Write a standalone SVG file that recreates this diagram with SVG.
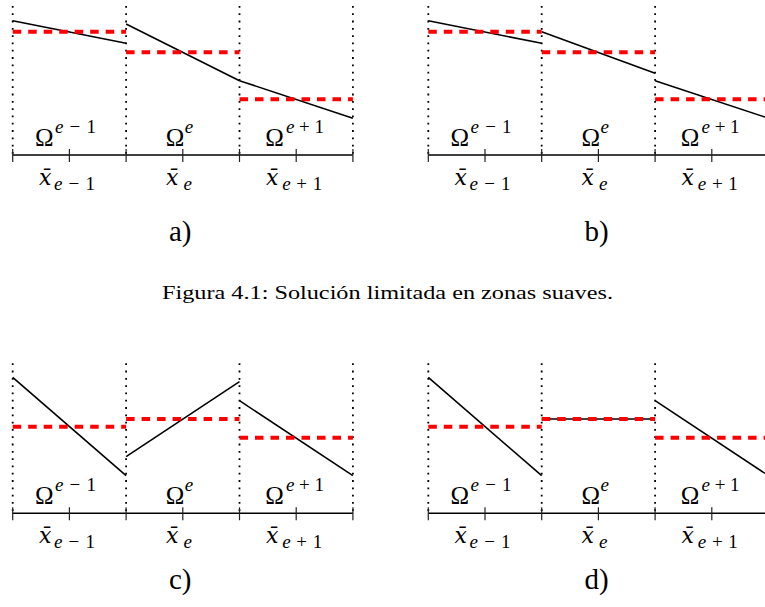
<svg xmlns="http://www.w3.org/2000/svg" width="765" height="607" viewBox="0 0 765 607" font-family="'Liberation Serif', serif">
<style>
.bg{fill:#fff}
.dot{stroke:#000;stroke-width:1.8;stroke-dasharray:1.8 5.5;fill:none}
.axis{stroke:#000;stroke-width:1.5;fill:none}
.tick{stroke:#222;stroke-width:1.2;fill:none}
.sol{stroke:#000;stroke-width:1.6;fill:none;stroke-linecap:butt}
.avg{stroke:#f00;stroke-width:4;stroke-dasharray:8.5 7;fill:none}
.t{font-family:'Liberation Serif',serif;fill:#000}
.om{font-size:25px}
.xb{font-family:'DejaVu Serif',serif;font-size:22px;font-style:italic}
.sc{font-size:19px}
.it{font-style:italic}
.lab{font-size:29px}
.cap{font-size:19px}
</style>
<rect class="bg" x="0" y="0" width="765" height="607"/>

<g id="panel-a">
  <g id="a-grid">
    <line class="dot" x1="12.7" y1="6" x2="12.7" y2="155"/>
    <line class="dot" x1="126.1" y1="6" x2="126.1" y2="155"/>
    <line class="dot" x1="239.5" y1="6" x2="239.5" y2="155"/>
    <line class="dot" x1="352.9" y1="6" x2="352.9" y2="155"/>
    <line class="axis" x1="12.7" y1="155" x2="352.9" y2="155"/>
    <path class="tick" d="M12.7 149V162M126.1 149V162M239.5 149V162M352.9 149V162M69.4 149V162M182.8 149V162M296.2 149V162"/>
  </g>
  <g id="a-sol">
    <line class="sol" x1="12.7" y1="20.7" x2="126.1" y2="43.3"/>
    <line class="sol" x1="126.1" y1="24" x2="239.5" y2="80.7"/>
    <line class="sol" x1="239.5" y1="80.7" x2="352.9" y2="118.3"/>
    <line class="avg" x1="12.7" y1="31.7" x2="126.1" y2="31.7"/>
    <line class="avg" x1="126.1" y1="52.3" x2="239.5" y2="52.3"/>
    <line class="avg" x1="239.5" y1="99.3" x2="352.9" y2="99.3"/>
  </g>
  <g id="a-labels">
    <text class="t om" x="35" y="146">Ω</text><text class="t sc it" x="55" y="133" textLength="41" lengthAdjust="spacing">e<tspan font-style="normal">−1</tspan></text>
    <text class="t om" x="165.8" y="146">Ω</text><text class="t sc it" x="184.8" y="133">e</text>
    <text class="t om" x="265.2" y="146">Ω</text><text class="t sc it" x="286" y="133" textLength="38" lengthAdjust="spacing">e<tspan font-style="normal">+1</tspan></text>
    <text class="t xb" x="39" y="185">x̄</text><text class="t sc it" x="54" y="190" textLength="41" lengthAdjust="spacing">e<tspan font-style="normal">−1</tspan></text>
    <text class="t xb" x="166" y="185">x̄</text><text class="t sc it" x="183.5" y="190">e</text>
    <text class="t xb" x="266" y="185">x̄</text><text class="t sc it" x="282.2" y="190" textLength="40" lengthAdjust="spacing">e<tspan font-style="normal">+1</tspan></text>
    <text class="t lab" x="169" y="241">a)</text>
  </g>
</g>

<g id="panel-b">
  <g id="b-grid">
    <line class="dot" x1="428.3" y1="6" x2="428.3" y2="155"/>
    <line class="dot" x1="541.7" y1="6" x2="541.7" y2="155"/>
    <line class="dot" x1="655.1" y1="6" x2="655.1" y2="155"/>
    <line class="axis" x1="428.3" y1="155" x2="765" y2="155"/>
    <path class="tick" d="M428.3 149V162M541.7 149V162M655.1 149V162M485 149V162M598.4 149V162M711.8 149V162"/>
  </g>
  <g id="b-sol">
    <line class="sol" x1="428.3" y1="20.7" x2="541.7" y2="43.3"/>
    <line class="sol" x1="541.7" y1="31.7" x2="655.1" y2="73.3"/>
    <line class="sol" x1="655.1" y1="80.7" x2="765" y2="117.1"/>
    <line class="avg" x1="428.3" y1="31.7" x2="541.7" y2="31.7"/>
    <line class="avg" x1="541.7" y1="52.3" x2="655.1" y2="52.3"/>
    <line class="avg" x1="655.1" y1="99.3" x2="765" y2="99.3"/>
  </g>
  <g id="b-labels">
    <text class="t om" x="450.6" y="146">Ω</text><text class="t sc it" x="470.6" y="133" textLength="41" lengthAdjust="spacing">e<tspan font-style="normal">−1</tspan></text>
    <text class="t om" x="581.4" y="146">Ω</text><text class="t sc it" x="600.4" y="133">e</text>
    <text class="t om" x="680.8" y="146">Ω</text><text class="t sc it" x="701.6" y="133" textLength="38" lengthAdjust="spacing">e<tspan font-style="normal">+1</tspan></text>
    <text class="t xb" x="454.6" y="185">x̄</text><text class="t sc it" x="469.6" y="190" textLength="41" lengthAdjust="spacing">e<tspan font-style="normal">−1</tspan></text>
    <text class="t xb" x="581.6" y="185">x̄</text><text class="t sc it" x="599.1" y="190">e</text>
    <text class="t xb" x="681.6" y="185">x̄</text><text class="t sc it" x="697.8" y="190" textLength="40" lengthAdjust="spacing">e<tspan font-style="normal">+1</tspan></text>
    <text class="t lab" x="584.6" y="241">b)</text>
  </g>
</g>

<text id="caption" class="t cap" x="162" y="299" textLength="451" lengthAdjust="spacingAndGlyphs">Figura 4.1: Solución limitada en zonas suaves.</text>

<g id="panel-c">
  <g id="c-grid">
    <line class="dot" x1="12.7" y1="363.3" x2="12.7" y2="513.3"/>
    <line class="dot" x1="126.1" y1="363.3" x2="126.1" y2="513.3"/>
    <line class="dot" x1="239.5" y1="363.3" x2="239.5" y2="513.3"/>
    <line class="dot" x1="352.9" y1="363.3" x2="352.9" y2="513.3"/>
    <line class="axis" x1="12.7" y1="513.3" x2="352.9" y2="513.3"/>
    <path class="tick" d="M12.7 507.3V520.3M126.1 507.3V520.3M239.5 507.3V520.3M352.9 507.3V520.3M69.4 507.3V520.3M182.8 507.3V520.3M296.2 507.3V520.3"/>
  </g>
  <g id="c-sol">
    <line class="sol" x1="12.7" y1="377.3" x2="126.1" y2="475.7"/>
    <line class="sol" x1="126.1" y1="456.7" x2="239.5" y2="381.7"/>
    <line class="sol" x1="239.5" y1="400.7" x2="352.9" y2="475.7"/>
    <line class="avg" x1="12.7" y1="426.7" x2="126.1" y2="426.7"/>
    <line class="avg" x1="126.1" y1="419" x2="239.5" y2="419"/>
    <line class="avg" x1="239.5" y1="437.7" x2="352.9" y2="437.7"/>
  </g>
  <g id="c-labels">
    <text class="t om" x="35" y="504">Ω</text><text class="t sc it" x="55" y="491" textLength="41" lengthAdjust="spacing">e<tspan font-style="normal">−1</tspan></text>
    <text class="t om" x="165.8" y="504">Ω</text><text class="t sc it" x="184.8" y="491">e</text>
    <text class="t om" x="265.2" y="504">Ω</text><text class="t sc it" x="286" y="491" textLength="38" lengthAdjust="spacing">e<tspan font-style="normal">+1</tspan></text>
    <text class="t xb" x="39" y="543">x̄</text><text class="t sc it" x="54" y="548" textLength="41" lengthAdjust="spacing">e<tspan font-style="normal">−1</tspan></text>
    <text class="t xb" x="166" y="543">x̄</text><text class="t sc it" x="183.5" y="548">e</text>
    <text class="t xb" x="266" y="543">x̄</text><text class="t sc it" x="282.2" y="548" textLength="40" lengthAdjust="spacing">e<tspan font-style="normal">+1</tspan></text>
    <text class="t lab" x="169" y="589">c)</text>
  </g>
</g>

<g id="panel-d">
  <g id="d-grid">
    <line class="dot" x1="428.3" y1="363.3" x2="428.3" y2="513.3"/>
    <line class="dot" x1="541.7" y1="363.3" x2="541.7" y2="513.3"/>
    <line class="dot" x1="655.1" y1="363.3" x2="655.1" y2="513.3"/>
    <line class="axis" x1="428.3" y1="513.3" x2="765" y2="513.3"/>
    <path class="tick" d="M428.3 507.3V520.3M541.7 507.3V520.3M655.1 507.3V520.3M485 507.3V520.3M598.4 507.3V520.3M711.8 507.3V520.3"/>
  </g>
  <g id="d-sol">
    <line class="sol" x1="428.3" y1="377.3" x2="541.7" y2="475.7"/>
    <line class="sol" x1="541.7" y1="419" x2="655.1" y2="419"/>
    <line class="sol" x1="655.1" y1="400.7" x2="765" y2="473.4"/>
    <line class="avg" x1="428.3" y1="426.7" x2="541.7" y2="426.7"/>
    <line class="avg" x1="541.7" y1="419" x2="655.1" y2="419"/>
    <line class="avg" x1="655.1" y1="437.7" x2="765" y2="437.7"/>
  </g>
  <g id="d-labels">
    <text class="t om" x="450.6" y="504">Ω</text><text class="t sc it" x="470.6" y="491" textLength="41" lengthAdjust="spacing">e<tspan font-style="normal">−1</tspan></text>
    <text class="t om" x="581.4" y="504">Ω</text><text class="t sc it" x="600.4" y="491">e</text>
    <text class="t om" x="680.8" y="504">Ω</text><text class="t sc it" x="701.6" y="491" textLength="38" lengthAdjust="spacing">e<tspan font-style="normal">+1</tspan></text>
    <text class="t xb" x="454.6" y="543">x̄</text><text class="t sc it" x="469.6" y="548" textLength="41" lengthAdjust="spacing">e<tspan font-style="normal">−1</tspan></text>
    <text class="t xb" x="581.6" y="543">x̄</text><text class="t sc it" x="599.1" y="548">e</text>
    <text class="t xb" x="681.6" y="543">x̄</text><text class="t sc it" x="697.8" y="548" textLength="40" lengthAdjust="spacing">e<tspan font-style="normal">+1</tspan></text>
    <text class="t lab" x="584.6" y="589">d)</text>
  </g>
</g>
</svg>
